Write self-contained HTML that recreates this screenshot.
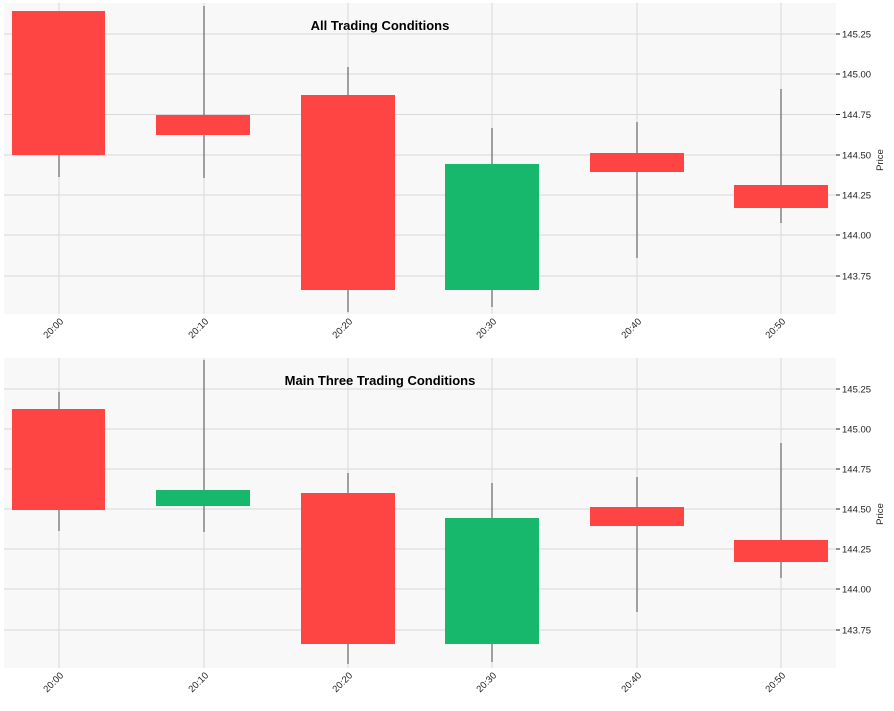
<!DOCTYPE html><html><head><style>body{margin:0;background:#fff}svg{display:block;font-family:"Liberation Sans","DejaVu Sans",sans-serif}</style></head><body>
<svg width="894" height="711" xmlns="http://www.w3.org/2000/svg">
<g id="p1">
<rect x="4" y="3" width="832" height="311" fill="#f8f8f8"/>
<g stroke="#d9d9d9" stroke-width="1">
<line x1="4" x2="836" y1="34" y2="34"/><line x1="4" x2="836" y1="74" y2="74"/><line x1="4" x2="836" y1="114.5" y2="114.5"/><line x1="4" x2="836" y1="155" y2="155"/><line x1="4" x2="836" y1="195" y2="195"/><line x1="4" x2="836" y1="235" y2="235"/><line x1="4" x2="836" y1="276" y2="276"/>
<line y1="3" y2="314" x1="59" x2="59"/><line y1="3" y2="314" x1="204" x2="204"/><line y1="3" y2="314" x1="348" x2="348"/><line y1="3" y2="314" x1="492" x2="492"/><line y1="3" y2="314" x1="637" x2="637"/><line y1="3" y2="314" x1="781" x2="781"/>
</g>
<g stroke="#666" stroke-width="1.2">
<line x1="59" x2="59" y1="11" y2="177"/><line x1="204" x2="204" y1="6" y2="178"/><line x1="348" x2="348" y1="67" y2="312"/><line x1="492" x2="492" y1="128" y2="307"/><line x1="637" x2="637" y1="122" y2="258"/><line x1="781" x2="781" y1="89" y2="223"/>
</g>
<rect x="12" y="11" width="93" height="144" fill="#ff4444"/>
<rect x="156" y="115" width="94" height="20" fill="#ff4444"/>
<rect x="301" y="95" width="94" height="195" fill="#ff4444"/>
<rect x="445" y="164" width="94" height="126" fill="#17b76c"/>
<rect x="590" y="153" width="94" height="19" fill="#ff4444"/>
<rect x="734" y="185" width="94" height="23" fill="#ff4444"/>
<text x="380" y="30" font-size="13" font-weight="bold" text-anchor="middle">All Trading Conditions</text>
<g font-size="9.5" fill="#222"><g stroke="#222"><line x1="836" x2="840" y1="34" y2="34"/><line x1="836" x2="840" y1="74" y2="74"/><line x1="836" x2="840" y1="114.5" y2="114.5"/><line x1="836" x2="840" y1="155" y2="155"/><line x1="836" x2="840" y1="195" y2="195"/><line x1="836" x2="840" y1="235" y2="235"/><line x1="836" x2="840" y1="276" y2="276"/></g>
<text x="842" y="37.5">145.25</text><text x="842" y="77.5">145.00</text><text x="842" y="118">144.75</text><text x="842" y="158.5">144.50</text><text x="842" y="198.5">144.25</text><text x="842" y="238.5">144.00</text><text x="842" y="279.5">143.75</text>
<text transform="translate(883,160) rotate(-90)" text-anchor="middle">Price</text>
<text transform="translate(64,322) rotate(-45)" text-anchor="end">20:00</text><text transform="translate(209,322) rotate(-45)" text-anchor="end">20:10</text><text transform="translate(353,322) rotate(-45)" text-anchor="end">20:20</text><text transform="translate(497,322) rotate(-45)" text-anchor="end">20:30</text><text transform="translate(642,322) rotate(-45)" text-anchor="end">20:40</text><text transform="translate(786,322) rotate(-45)" text-anchor="end">20:50</text>
</g>
</g>
<g id="p2">
<rect x="4" y="358" width="832" height="310" fill="#f8f8f8"/>
<g stroke="#d9d9d9" stroke-width="1">
<line x1="4" x2="836" y1="389" y2="389"/><line x1="4" x2="836" y1="429" y2="429"/><line x1="4" x2="836" y1="469" y2="469"/><line x1="4" x2="836" y1="509" y2="509"/><line x1="4" x2="836" y1="549" y2="549"/><line x1="4" x2="836" y1="589" y2="589"/><line x1="4" x2="836" y1="630" y2="630"/>
<line y1="358" y2="668" x1="59" x2="59"/><line y1="358" y2="668" x1="204" x2="204"/><line y1="358" y2="668" x1="348" x2="348"/><line y1="358" y2="668" x1="492" x2="492"/><line y1="358" y2="668" x1="637" x2="637"/><line y1="358" y2="668" x1="781" x2="781"/>
</g>
<g stroke="#666" stroke-width="1.2">
<line x1="59" x2="59" y1="392" y2="531"/><line x1="204" x2="204" y1="360" y2="532"/><line x1="348" x2="348" y1="473" y2="664"/><line x1="492" x2="492" y1="483" y2="662"/><line x1="637" x2="637" y1="477" y2="612"/><line x1="781" x2="781" y1="443" y2="578"/>
</g>
<rect x="12" y="409" width="93" height="101" fill="#ff4444"/>
<rect x="156" y="490" width="94" height="16" fill="#17b76c"/>
<rect x="301" y="493" width="94" height="151" fill="#ff4444"/>
<rect x="445" y="518" width="94" height="126" fill="#17b76c"/>
<rect x="590" y="507" width="94" height="19" fill="#ff4444"/>
<rect x="734" y="540" width="94" height="22" fill="#ff4444"/>
<text x="380" y="385" font-size="13" font-weight="bold" text-anchor="middle">Main Three Trading Conditions</text>
<g font-size="9.5" fill="#222"><g stroke="#222"><line x1="836" x2="840" y1="389" y2="389"/><line x1="836" x2="840" y1="429" y2="429"/><line x1="836" x2="840" y1="469" y2="469"/><line x1="836" x2="840" y1="509" y2="509"/><line x1="836" x2="840" y1="549" y2="549"/><line x1="836" x2="840" y1="589" y2="589"/><line x1="836" x2="840" y1="630" y2="630"/></g>
<text x="842" y="392.5">145.25</text><text x="842" y="432.5">145.00</text><text x="842" y="472.5">144.75</text><text x="842" y="512.5">144.50</text><text x="842" y="552.5">144.25</text><text x="842" y="592.5">144.00</text><text x="842" y="633.5">143.75</text>
<text transform="translate(883,514) rotate(-90)" text-anchor="middle">Price</text>
<text transform="translate(64,676) rotate(-45)" text-anchor="end">20:00</text><text transform="translate(209,676) rotate(-45)" text-anchor="end">20:10</text><text transform="translate(353,676) rotate(-45)" text-anchor="end">20:20</text><text transform="translate(497,676) rotate(-45)" text-anchor="end">20:30</text><text transform="translate(642,676) rotate(-45)" text-anchor="end">20:40</text><text transform="translate(786,676) rotate(-45)" text-anchor="end">20:50</text>
</g>
</g>
</svg></body></html>
